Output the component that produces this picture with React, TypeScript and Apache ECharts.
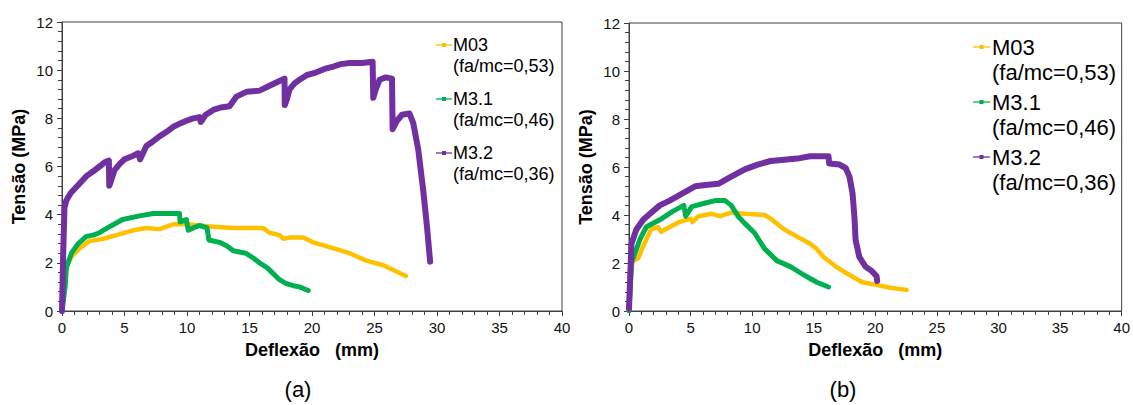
import { useEffect, useRef } from "react";
import * as echarts from "echarts";

// Deflexão (mm), Tensão (MPa) — panel (a)
const m03a: number[][] = [
  [0, 0], [0.2, 1.0], [0.35, 1.8], [0.75, 2.25], [1.4, 2.6], [2.2, 2.9], [3.3, 3.0], [4.35, 3.15],
  [5.7, 3.35], [6.75, 3.45], [7.8, 3.4], [8.9, 3.6], [9.95, 3.6], [11.0, 3.55], [12.1, 3.5],
  [13.7, 3.45], [16.1, 3.45], [16.6, 3.25], [17.4, 3.15], [17.7, 3.0], [18.2, 3.05], [19.3, 3.05],
  [20.1, 2.85], [21.4, 2.65], [23.0, 2.4], [24.3, 2.1], [25.7, 1.9], [26.5, 1.7], [27.5, 1.45],
];
const m31a: number[][] = [
  [0, 0], [0.25, 1.0], [0.35, 1.8], [0.75, 2.4], [1.3, 2.8], [1.95, 3.1], [2.5, 3.15], [3.0, 3.25],
  [3.8, 3.5], [4.85, 3.8], [6.2, 3.95], [7.3, 4.05], [8.5, 4.05], [9.4, 4.05], [9.45, 3.7],
  [9.95, 3.8], [10.1, 3.35], [10.5, 3.45], [11.0, 3.55], [11.6, 3.45], [11.75, 2.95], [12.6, 2.85],
  [13.2, 2.7], [13.7, 2.5], [14.7, 2.4], [15.3, 2.2], [15.8, 2.0], [16.4, 1.8], [16.9, 1.55],
  [17.4, 1.3], [17.9, 1.15], [18.5, 1.05], [19.0, 1.0], [19.7, 0.85],
];
const m32a: number[][] = [
  [0, 0], [0.1, 2.5], [0.2, 4.3], [0.35, 4.6], [0.7, 4.9], [1.15, 5.15], [1.6, 5.4], [1.95, 5.6],
  [2.5, 5.8], [3.0, 6.0], [3.5, 6.2], [3.75, 6.25], [3.78, 5.2], [3.85, 5.3], [4.2, 5.85],
  [4.6, 6.1], [5.0, 6.3], [5.7, 6.45], [6.1, 6.55], [6.25, 6.3], [6.75, 6.85], [7.3, 7.05],
  [7.8, 7.25], [8.4, 7.45], [8.9, 7.65], [9.5, 7.8], [9.95, 7.9], [10.5, 8.0], [11.0, 8.05],
  [11.1, 7.85], [11.5, 8.15], [12.1, 8.35], [12.7, 8.45], [13.4, 8.5], [13.95, 8.9], [14.75, 9.1],
  [15.8, 9.15], [16.6, 9.35], [17.4, 9.55], [17.8, 9.65], [17.82, 8.55], [18.0, 8.8], [18.2, 9.2],
  [18.6, 9.45], [19.0, 9.6], [19.6, 9.8], [20.3, 9.9], [21.0, 10.05], [21.7, 10.15], [22.3, 10.25],
  [23.0, 10.3], [24.0, 10.3], [24.85, 10.35], [24.9, 8.85], [25.1, 9.2], [25.4, 9.6], [25.9, 9.7],
  [26.4, 9.65], [26.45, 7.55], [26.8, 7.9], [27.2, 8.15], [27.8, 8.2], [28.1, 7.8], [28.5, 6.7],
  [28.9, 5.0], [29.2, 3.5], [29.45, 2.05],
];

// panel (b)
const m03b: number[][] = [
  [0, 0.1], [0.2, 1.85], [0.35, 2.1], [0.75, 2.2], [1.15, 2.7], [1.8, 3.4], [2.35, 3.5], [2.6, 3.3],
  [3.3, 3.5], [4.05, 3.7], [5.0, 3.85], [5.15, 3.7], [5.65, 3.95], [6.7, 4.05], [7.4, 3.95],
  [8.3, 4.1], [9.4, 4.05], [11.0, 4.0], [11.5, 3.85], [12.6, 3.4], [13.65, 3.1], [14.7, 2.8],
  [15.2, 2.6], [15.8, 2.25], [16.8, 1.85], [17.9, 1.5], [18.95, 1.2], [20.0, 1.1], [21.1, 0.98],
  [22.55, 0.88],
];
const m31b: number[][] = [
  [0, 0], [0.2, 2.0], [0.9, 3.0], [1.4, 3.5], [2.5, 3.8], [3.55, 4.15], [4.45, 4.4], [4.6, 3.95],
  [5.1, 4.35], [6.2, 4.5], [7.0, 4.6], [7.8, 4.6], [8.3, 4.4], [8.85, 3.95], [9.4, 3.65],
  [10.2, 3.25], [11.0, 2.6], [12.0, 2.1], [13.1, 1.85], [14.2, 1.5], [15.25, 1.2], [16.2, 1.0],
];
const m32b: number[][] = [
  [0, 0.1], [0.13, 1.85], [0.2, 2.8], [0.6, 3.4], [1.15, 3.8], [1.7, 4.05], [2.5, 4.4], [3.3, 4.6],
  [4.35, 4.9], [5.4, 5.2], [6.2, 5.25], [7.25, 5.3], [8.3, 5.6], [9.4, 5.9], [10.45, 6.1],
  [11.5, 6.25], [12.6, 6.3], [13.65, 6.35], [14.7, 6.45], [16.2, 6.45], [16.25, 6.15], [17.1, 6.1],
  [17.6, 5.95], [17.9, 5.6], [18.15, 4.9], [18.3, 3.95], [18.4, 2.95], [18.7, 2.25], [19.2, 1.85],
  [19.75, 1.65], [20.1, 1.45], [20.15, 1.25],
];

const seriesNames = ["M03", "M3.1", "M3.2"];
const seriesRatios = ["(fa/mc=0,53)", "(fa/mc=0,46)", "(fa/mc=0,36)"];
const panelLabels = ["(a)", "(b)"];
const xTitle = "Deflexão   (mm)";
const yTitle = "Tensão (MPa)";

const COLORS = ["#FFC000", "#00B050", "#7030A0"];
const FONT = "'Liberation Sans', Arial, sans-serif";
const AXIS_COLOR = "#404040";

function makeAxes(gridIndex: number) {
  const xAxis = {
    type: "value",
    gridIndex,
    min: 0,
    max: 40,
    interval: 5,
    name: xTitle,
    nameLocation: "middle",
    nameGap: 30,
    nameTextStyle: { fontFamily: FONT, fontSize: 18, fontWeight: "bold", color: "#000" },
    axisLine: { show: true, onZero: false, lineStyle: { color: AXIS_COLOR, width: 1 } },
    axisTick: { show: true, length: 5, lineStyle: { color: AXIS_COLOR } },
    minorTick: { show: true, splitNumber: 5, length: 4, lineStyle: { color: AXIS_COLOR } },
    axisLabel: { fontFamily: FONT, fontSize: 15, color: "#111", margin: 9 },
    splitLine: { show: false },
  };
  const yAxis = {
    type: "value",
    gridIndex,
    min: 0,
    max: 12,
    interval: 2,
    name: yTitle,
    nameLocation: "middle",
    nameGap: 34,
    nameTextStyle: { fontFamily: FONT, fontSize: 18, fontWeight: "bold", color: "#000" },
    axisLine: { show: true, onZero: false, lineStyle: { color: AXIS_COLOR, width: 1 } },
    axisTick: { show: true, length: 5, lineStyle: { color: AXIS_COLOR } },
    minorTick: { show: true, splitNumber: 5, length: 4, lineStyle: { color: AXIS_COLOR } },
    axisLabel: { fontFamily: FONT, fontSize: 15, color: "#111", margin: 9 },
    splitLine: { show: false },
  };
  return { xAxis, yAxis };
}

function legendGraphics(
  iconX0: number,
  iconX1: number,
  textX: number,
  firstY: number,
  step: number,
  fontSize: number,
  lineHeight: number
) {
  const els: any[] = [];
  seriesNames.forEach((name, i) => {
    const cy = firstY + i * step;
    const mid = (iconX0 + iconX1) / 2;
    els.push({
      type: "line",
      silent: true,
      shape: { x1: iconX0, y1: cy, x2: iconX1, y2: cy },
      style: { stroke: COLORS[i], lineWidth: 1.3 },
    });
    els.push({
      type: "rect",
      silent: true,
      shape: { x: mid - 2, y: cy - 2, width: 4, height: 4 },
      style: { fill: COLORS[i] },
    });
    els.push({
      type: "text",
      silent: true,
      x: textX,
      y: cy - lineHeight / 2,
      style: {
        text: name + "\n" + seriesRatios[i],
        font: `${fontSize}px ${FONT}`,
        lineHeight,
        fill: "#000",
        textAlign: "left",
        textVerticalAlign: "top",
      },
    });
  });
  return els;
}

export default function App() {
  const ref = useRef<HTMLDivElement>(null);

  useEffect(() => {
    if (!ref.current) return;
    const chart = echarts.init(ref.current, null, { renderer: "svg" });
    const a = makeAxes(0);
    const b = makeAxes(1);
    const panelData = [
      [m03a, m31a, m32a],
      [m03b, m31b, m32b],
    ];
    const widths = [4.5, 5, 6];
    const series: any[] = [];
    panelData.forEach((sets, p) => {
      sets.forEach((data, i) => {
        series.push({
          type: "line",
          name: seriesNames[i],
          xAxisIndex: p,
          yAxisIndex: p,
          data,
          symbol: "none",
          smooth: false,
          lineStyle: { color: COLORS[i], width: widths[i], join: "round", cap: "round" },
          z: 2 + i,
        });
      });
    });

    chart.setOption({
      animation: false,
      backgroundColor: "#ffffff",
      grid: [
        { left: 62, top: 22, width: 500, height: 289, show: true, borderColor: AXIS_COLOR, borderWidth: 1 },
        { left: 629, top: 23, width: 495, height: 288, show: true, borderColor: AXIS_COLOR, borderWidth: 1 },
      ],
      xAxis: [a.xAxis, b.xAxis],
      yAxis: [a.yAxis, b.yAxis],
      series,
      graphic: [
        ...legendGraphics(436, 452, 453, 45, 54, 18, 21),
        ...legendGraphics(973, 990, 992, 47, 55, 22, 25),
        {
          type: "text",
          x: 298,
          y: 389,
          style: {
            text: panelLabels[0],
            font: `22px ${FONT}`,
            fill: "#000",
            textAlign: "center",
            textVerticalAlign: "middle",
          },
        },
        {
          type: "text",
          x: 843,
          y: 389,
          style: {
            text: panelLabels[1],
            font: `22px ${FONT}`,
            fill: "#000",
            textAlign: "center",
            textVerticalAlign: "middle",
          },
        },
      ],
    });
    return () => chart.dispose();
  }, []);

  return (
    <div
      ref={ref}
      style={{ position: "absolute", left: 0, top: 0, width: 1133, height: 405 }}
    />
  );
}
